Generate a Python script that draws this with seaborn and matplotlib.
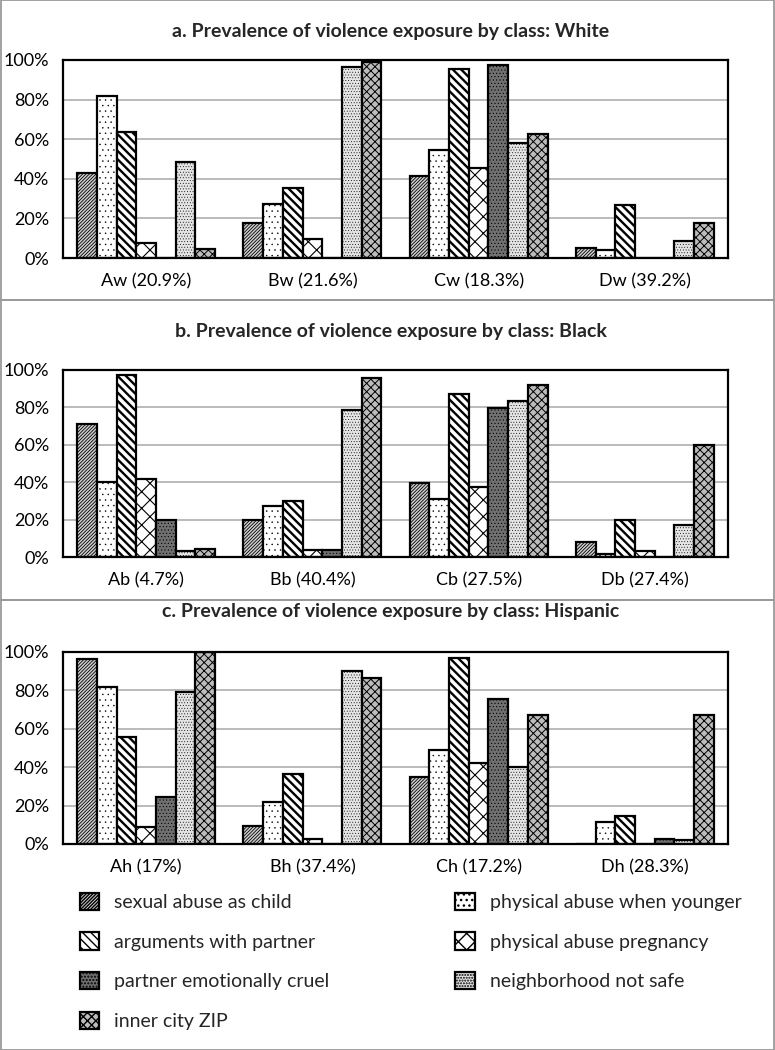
import pandas as pd
import seaborn as sns
import matplotlib
matplotlib.use('Agg')
from matplotlib import pyplot as plt
from matplotlib.patches import Rectangle
from matplotlib.ticker import PercentFormatter

# exposures (legend order)
exposures = ['sexual abuse as child', 'physical abuse when younger', 'arguments with partner',
             'physical abuse pregnancy', 'partner emotionally cruel', 'neighborhood not safe',
             'inner city ZIP']

white_classes = ['Aw (20.9%)', 'Bw (21.6%)', 'Cw (18.3%)', 'Dw (39.2%)']
black_classes = ['Ab (4.7%)', 'Bb (40.4%)', 'Cb (27.5%)', 'Db (27.4%)']
hisp_classes = ['Ah (17%)', 'Bh (37.4%)', 'Ch (17.2%)', 'Dh (28.3%)']

# percent values, one list per class, in exposure order
aw = [42.8, 82.0, 63.8, 7.7, 0.0, 48.6, 4.5]
bw = [17.8, 27.1, 35.2, 9.6, 0.0, 96.3, 98.8]
cw = [41.4, 54.4, 95.5, 45.3, 97.3, 57.9, 62.6]
dw = [5.2, 4.0, 26.6, 0.0, 0.0, 8.6, 17.7]

ab = [71.3, 40.3, 97.1, 41.7, 19.8, 3.1, 4.5]
bb = [19.8, 27.3, 29.8, 4.0, 3.5, 78.7, 95.9]
cb = [39.7, 30.9, 87.4, 37.4, 79.6, 83.3, 91.8]
db = [8.1, 1.5, 19.8, 3.1, 0.0, 17.1, 59.8]

ah = [96.4, 82.0, 55.9, 8.9, 24.5, 79.4, 100.0]
bh = [9.6, 21.9, 36.6, 2.5, 0.0, 90.3, 86.4]
ch = [34.8, 48.9, 97.1, 42.1, 75.4, 40.0, 67.4]
dh = [0.0, 11.3, 14.4, 0.0, 2.8, 2.3, 67.0]

titles = ['a. Prevalence of violence exposure by class: White',
          'b. Prevalence of violence exposure by class: Black',
          'c. Prevalence of violence exposure by class: Hispanic']

panels = [(white_classes, [aw, bw, cw, dw]),
          (black_classes, [ab, bb, cb, db]),
          (hisp_classes, [ah, bh, ch, dh])]

fills = ['#d0d0d0', 'white', 'white', 'white', '#707070', '#e4e4e4', '#bcbcbc']
hatches = ['/' * 10, '...', '\\' * 4, 'xx', '.....', '......', 'xxxx']
hatch_cols = ['#333333', '#8a8a8a', 'black', '#555555', '#222222', '#8a8a8a', '#444444']
hatch_lws = [0.6, 0.3, 1.7, 0.8, 0.4, 0.3, 0.7]

sns.set_theme(style='white')
plt.rcParams['font.family'] = ['Lato', 'DejaVu Sans']
plt.rcParams['hatch.linewidth'] = 1.0
plt.rcParams['hatch.color'] = 'black'

fig = plt.figure(figsize=(7.75, 10.5), dpi=100)

# panel frames (pixels from top)
for top, bot in [(0, 300), (300, 600), (600, 1050)]:
    fig.patches.append(Rectangle((0.5 / 775, 1 - bot / 1050), 773 / 775, (bot - top) / 1050,
                                 transform=fig.transFigure, fill=False,
                                 edgecolor='#9a9a9a', linewidth=1.3))

axes_px = [(60, 258), (370, 557), (652, 844)]
title_y = [32, 332, 612]

for i, (classes, vals) in enumerate(panels):
    rows = []
    for c, v in zip(classes, vals):
        for e, val in zip(exposures, v):
            rows.append({'cls': c, 'exposure': e, 'value': val})
    df = pd.DataFrame(rows)

    top, bot = axes_px[i]
    ax = fig.add_axes([63 / 775, 1 - bot / 1050, 665 / 775, (bot - top) / 1050])
    sns.barplot(data=df, x='cls', y='value', hue='exposure', hue_order=exposures,
                palette=fills, saturation=1, width=0.83, gap=0, errorbar=None,
                edgecolor='black', linewidth=1.6, legend=False, ax=ax)
    for k, cont in enumerate(ax.containers):
        for bar in cont:
            bar.set_hatch(hatches[k])
            if hasattr(bar, 'set_hatchcolor'):
                bar.set_hatchcolor(hatch_cols[k])
            if hasattr(bar, 'set_hatch_linewidth'):
                bar.set_hatch_linewidth(hatch_lws[k])

    ax.set_ylim(0, 100)
    ax.set_yticks([0, 20, 40, 60, 80, 100])
    ax.yaxis.set_major_formatter(PercentFormatter(decimals=0))
    ax.yaxis.grid(True, color='#b5b5b5', linewidth=1.3)
    ax.set_axisbelow(True)
    ax.set_xlabel('')
    ax.set_ylabel('')
    ax.tick_params(axis='both', length=0, labelsize=13, colors='black')
    ax.tick_params(axis='x', pad=11)
    ax.tick_params(axis='y', pad=10)
    for s in ax.spines.values():
        s.set_color('black')
        s.set_linewidth(1.6)
    fig.text(0.5 * (63 + 728) / 775 - 0.006, 1 - title_y[i] / 1050, titles[i],
             ha='center', va='center', fontsize=14, fontweight='bold')

# legend built from the last panel's bars, row-wise order
handles = [ax.containers[k][0] for k in range(7)]
order = [0, 2, 4, 6, 1, 3, 5]
leg = fig.legend([handles[k] for k in order], [exposures[k] for k in order],
                 ncol=2, loc='upper left', bbox_to_anchor=(62 / 775, 1 - 875 / 1050),
                 frameon=False, fontsize=14, handlelength=1.0, handleheight=1.0,
                 columnspacing=6.45, labelspacing=1.1, handletextpad=0.8)

fig.savefig('out.png', dpi=100)
